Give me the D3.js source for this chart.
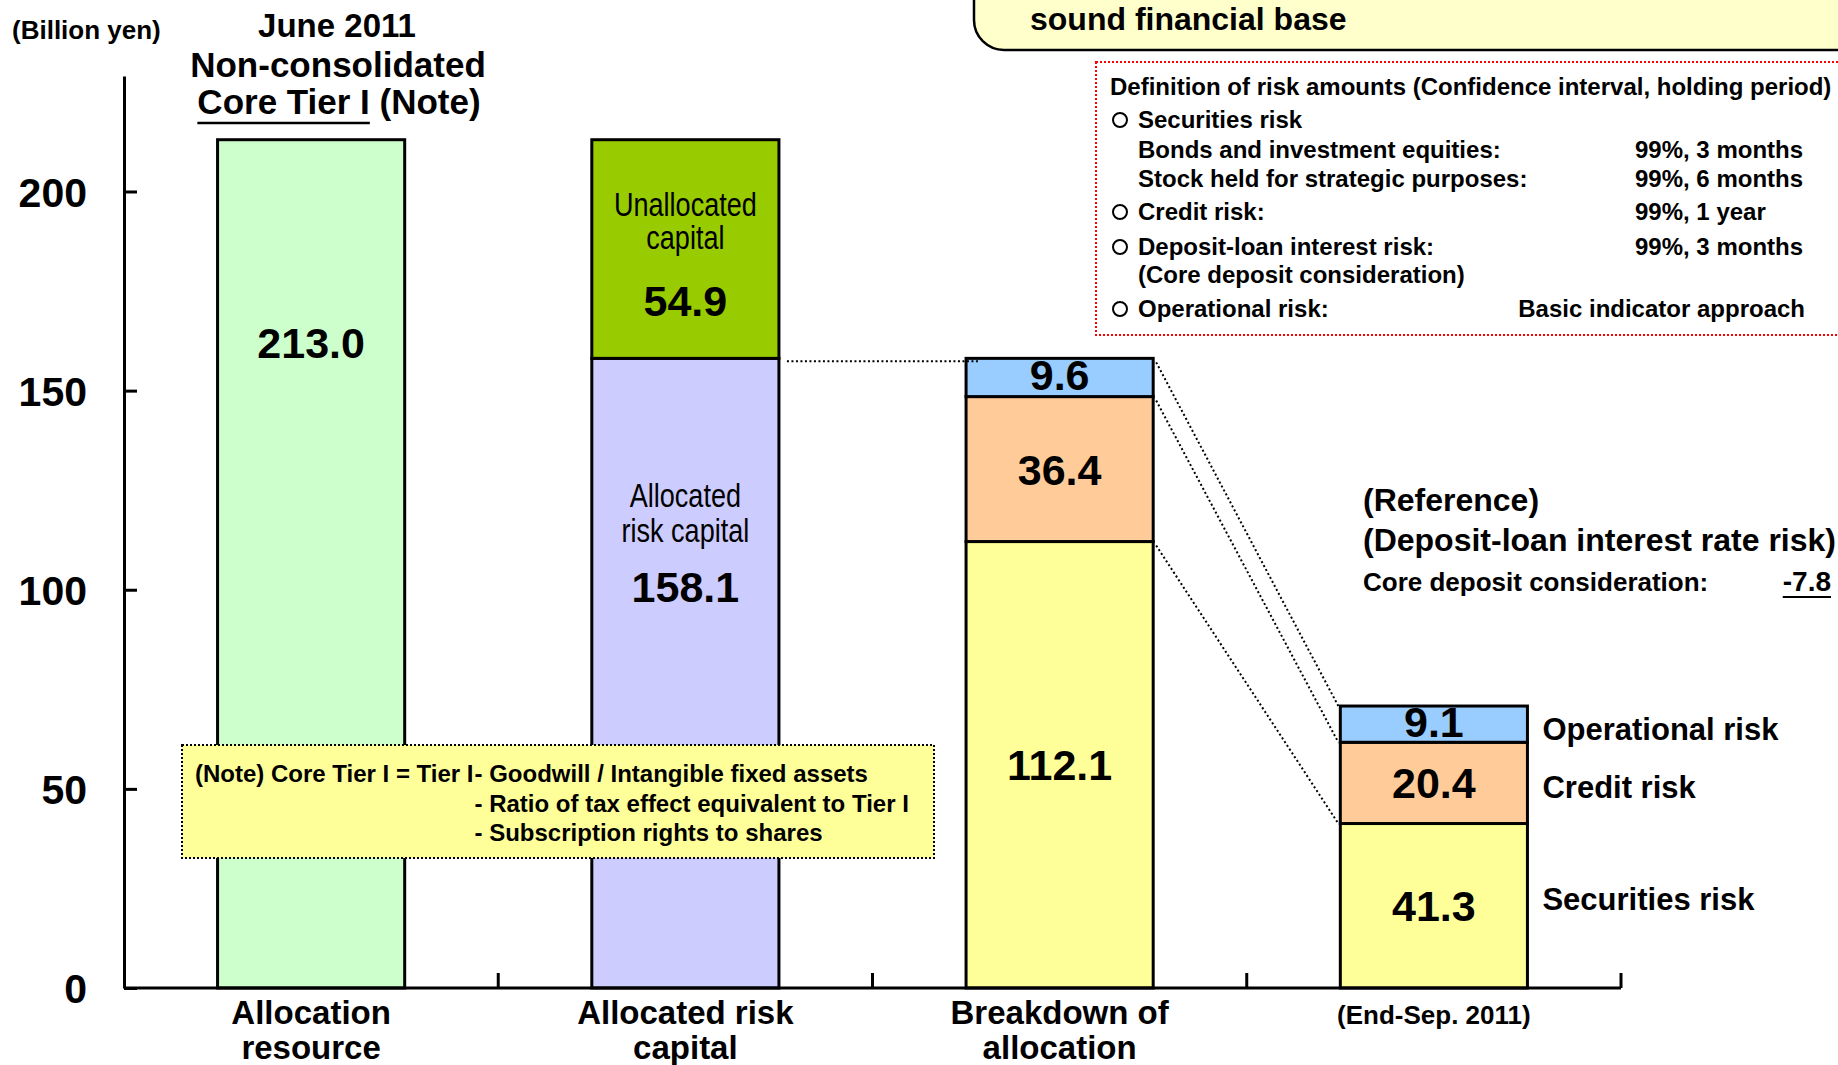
<!DOCTYPE html>
<html>
<head>
<meta charset="utf-8">
<script src="https://cdn.jsdelivr.net/npm/d3@7"></script>
<style>
  html, body { margin: 0; padding: 0; background: #fff; }
  svg { display: block; }
  text { font-family: "Liberation Sans", Arial, Helvetica, sans-serif; font-weight: bold; fill: #000; }
  .narrow { font-weight: normal; }
</style>
</head>
<body>
<svg id="chart" width="1838" height="1065"></svg>
<script>
// ---- data (billion yen) ----
const categories = ["Allocation resource", "Allocated risk capital", "Breakdown of allocation", "End-Sep. 2011"];
const categoryLabels = [["Allocation", "resource"], ["Allocated risk", "capital"], ["Breakdown of", "allocation"], ["(End-Sep. 2011)"]];
const coreTierI = 213.0;
const allocatedRiskCapital = 158.1;
const unallocatedCapital = 54.9;
const riskTypes = ["Securities risk", "Credit risk", "Operational risk"];
const riskJune = [112.1, 36.4, 9.6];
const riskSep = [41.3, 20.4, 9.1];
const yTicks = [0, 50, 100, 150, 200];
const coreDepositConsideration = -7.8;
const definitionRows = [
  { bullet: true,  label: "Securities risk", value: "" },
  { bullet: false, label: "Bonds and investment equities:", value: "99%, 3 months" },
  { bullet: false, label: "Stock held for strategic purposes:", value: "99%, 6 months" },
  { bullet: true,  label: "Credit risk:", value: "99%, 1 year" },
  { bullet: true,  label: "Deposit-loan interest risk:", value: "99%, 3 months" },
  { bullet: false, label: "(Core deposit consideration)", value: "" },
  { bullet: true,  label: "Operational risk:", value: "Basic indicator approach", endAligned: true }
];
const noteLines = ["- Goodwill / Intangible fixed assets", "- Ratio of tax effect equivalent to Tier I", "- Subscription rights to shares"];

// ---- styles ----
const riskColors = { "Securities risk": "#FFFF99", "Credit risk": "#FFCC99", "Operational risk": "#99CCFF" };
const resourceColor = "#CCFFCC", allocatedColor = "#CCCCFF", unallocatedColor = "#99CC00";

const svg = d3.select("#chart");

// ---- scales ----
const x = d3.scaleBand().domain(categories).range([124, 1621]).paddingInner(0.5).paddingOuter(0.25);
const y = d3.scaleLinear().domain([0, 229]).range([988, 76]);
const bw = x.bandwidth();

// ---- segments ----
const riskRows = [riskJune, riskSep].map((vals, i) => {
  const row = { cat: categories[2 + i] };
  riskTypes.forEach((k, j) => row[k] = vals[j]);
  return row;
});
const stacked = d3.stack().keys(riskTypes)(riskRows);

const segments = [
  { cat: categories[0], y0: 0, y1: coreTierI, fill: resourceColor },
  { cat: categories[1], y0: 0, y1: allocatedRiskCapital, fill: allocatedColor },
  { cat: categories[1], y0: allocatedRiskCapital, y1: allocatedRiskCapital + unallocatedCapital, fill: unallocatedColor }
];
stacked.forEach(layer => layer.forEach(d => {
  segments.push({ cat: d.data.cat, y0: d[0], y1: d[1], fill: riskColors[layer.key], key: layer.key, value: d.data[layer.key] });
}));

svg.append("g").selectAll("rect").data(segments).join("rect")
  .attr("x", d => x(d.cat))
  .attr("y", d => y(d.y1))
  .attr("width", bw)
  .attr("height", d => y(d.y0) - y(d.y1))
  .attr("fill", d => d.fill)
  .attr("stroke", "#000")
  .attr("stroke-width", 3);

// ---- axes ----
const yAxis = d3.axisLeft(y).tickValues(yTicks).tickSizeInner(-13).tickSizeOuter(0).tickPadding(37).tickFormat(d3.format("d"));
const gy = svg.append("g").attr("transform", "translate(124,0)").call(yAxis);
gy.attr("font-family", null).attr("font-size", null);
gy.select(".domain").attr("stroke", "#000").attr("stroke-width", 3);
gy.selectAll(".tick line").attr("stroke", "#000").attr("stroke-width", 3);
gy.selectAll(".tick text").attr("font-size", 41).attr("fill", "#000").attr("dy", "0.36em");

// x baseline with ticks at the band boundaries
const gx = svg.append("g");
gx.append("line").attr("x1", 124).attr("x2", x.range()[1]).attr("y1", y(0)).attr("y2", y(0))
  .attr("stroke", "#000").attr("stroke-width", 3);
const boundaries = categories.map((c, i) => x.range()[0] + x.step() * (i + 1));
gx.selectAll("line.b").data(boundaries).join("line").attr("class", "b")
  .attr("x1", d => d).attr("x2", d => d).attr("y1", y(0)).attr("y2", y(0) - 15)
  .attr("stroke", "#000").attr("stroke-width", 3);

// category labels
categoryLabels.forEach((lines, i) => {
  const cx = x(categories[i]) + bw / 2;
  const t = gx.append("text").attr("text-anchor", "middle").attr("font-size", lines.length > 1 ? 33 : 26);
  lines.forEach((s, j) => t.append("tspan").attr("x", cx).attr("y", 1024 + j * 35).text(s));
});

// ---- value labels ----
const labels = svg.append("g");
const cx = i => x(categories[i]) + bw / 2;

// condensed caption text inside a bar
function narrowText(str, xc, yb) {
  labels.append("text").attr("class", "narrow")
    .attr("transform", `translate(${xc},${yb}) scale(0.82,1)`)
    .attr("text-anchor", "middle").attr("font-size", 33).text(str);
}

labels.append("text").attr("x", cx(0)).attr("y", y(coreTierI) + 218)
  .attr("text-anchor", "middle").attr("font-size", 43).text(coreTierI.toFixed(1));

// allocated / unallocated capital
const unTop = y(allocatedRiskCapital + unallocatedCapital);
narrowText("Unallocated", cx(1), unTop + 76);
narrowText("capital", cx(1), unTop + 109);
labels.append("text").attr("x", cx(1)).attr("y", unTop + 176).attr("text-anchor", "middle").attr("font-size", 43).text(unallocatedCapital.toFixed(1));

const alTop = y(allocatedRiskCapital);
narrowText("Allocated", cx(1), alTop + 149);
narrowText("risk capital", cx(1), alTop + 184);
labels.append("text").attr("x", cx(1)).attr("y", alTop + 244).attr("text-anchor", "middle").attr("font-size", 43).text(allocatedRiskCapital.toFixed(1));

// risk breakdown values centred in each segment
labels.selectAll("text.risk").data(segments.filter(d => d.key)).join("text").attr("class", "risk")
  .attr("x", d => x(d.cat) + bw / 2)
  .attr("y", d => (y(d.y0) + y(d.y1)) / 2 - (d.value < 10 ? 3 : 0))
  .attr("dy", "0.36em")
  .attr("text-anchor", "middle").attr("font-size", 43)
  .text(d => d.value.toFixed(1));

// risk names beside the latest bar
const riskNameY = { "Securities risk": 910, "Credit risk": 798, "Operational risk": 740 };
labels.selectAll("text.rname").data(riskTypes).join("text").attr("class", "rname")
  .attr("x", x(categories[3]) + bw + 15)
  .attr("y", k => riskNameY[k])
  .attr("font-size", 31).text(k => k);

// ---- dotted connectors ----
const conn = svg.append("g").attr("fill", "none").attr("stroke", "#000").attr("stroke-width", 2).attr("stroke-dasharray", "2,2.5");
conn.append("line")
  .attr("x1", x(categories[1]) + bw + 8).attr("x2", x(categories[2]) + 12)
  .attr("y1", y(allocatedRiskCapital) + 3).attr("y2", y(allocatedRiskCapital) + 3);
riskTypes.forEach((k, i) => {
  const june = stacked[i][0][1], sep = stacked[i][1][1];
  conn.append("line")
    .attr("x1", x(categories[2]) + bw + 3).attr("y1", y(june) + 4)
    .attr("x2", x(categories[3]) - 2).attr("y2", y(sep));
});

// ---- header ----
const head = svg.append("g");
head.append("text").attr("x", 12).attr("y", 39).attr("font-size", 26).text("(Billion yen)");
head.append("text").attr("x", 337).attr("y", 37).attr("text-anchor", "middle").attr("font-size", 33).text("June 2011");
head.append("text").attr("x", 338).attr("y", 77).attr("text-anchor", "middle").attr("font-size", 35).text("Non-consolidated");
const ct = head.append("text").attr("x", 339).attr("y", 114).attr("text-anchor", "middle").attr("font-size", 35).text("Core Tier I (Note)");
{
  const bb = ct.node().getBBox();
  const w = ct.node().getSubStringLength(0, 11);
  head.append("line").attr("x1", bb.x).attr("x2", bb.x + w).attr("y1", 123).attr("y2", 123).attr("stroke", "#000").attr("stroke-width", 2.5);
}

// ---- note box ----
const note = svg.append("g");
note.append("rect").attr("x", 182).attr("y", 745).attr("width", 752).attr("height", 113)
  .attr("fill", "#FFFF99").attr("stroke", "#000").attr("stroke-width", 2).attr("stroke-dasharray", "2,2");
const pre = note.append("text").attr("x", 195).attr("y", 782).attr("font-size", 24).text("(Note) Core Tier I = Tier I");
const preW = pre.node().getComputedTextLength();
noteLines.forEach((s, i) => {
  note.append("text").attr("x", 195 + preW + 1).attr("y", [782, 812, 841][i]).attr("font-size", 24).text(s);
});

// ---- title box (top right) ----
const tb = svg.append("g");
tb.append("rect").attr("x", 974).attr("y", -80).attr("width", 960).attr("height", 130).attr("rx", 30)
  .attr("fill", "#FFFFCC").attr("stroke", "#000").attr("stroke-width", 2.5);
tb.append("text").attr("x", 1030).attr("y", 30).attr("font-size", 32).text("sound financial base");

// ---- definition box ----
const def = svg.append("g");
def.append("rect").attr("x", 1096).attr("y", 62).attr("width", 780).attr("height", 273)
  .attr("fill", "#fff").attr("stroke", "#FF0000").attr("stroke-width", 2).attr("stroke-dasharray", "2,2");
def.append("text").attr("x", 1110).attr("y", 95).attr("font-size", 24)
  .text("Definition of risk amounts (Confidence interval, holding period)");
const defY = [128, 158, 187, 220, 255, 283, 317];
definitionRows.forEach((r, i) => {
  if (r.bullet) {
    def.append("circle").attr("cx", 1120).attr("cy", defY[i] - 8).attr("r", 7)
      .attr("fill", "none").attr("stroke", "#000").attr("stroke-width", 2);
  }
  def.append("text").attr("x", 1138).attr("y", defY[i]).attr("font-size", 24).text(r.label);
  if (r.value) {
    def.append("text").attr("x", r.endAligned ? 1805 : 1635).attr("y", defY[i])
      .attr("text-anchor", r.endAligned ? "end" : "start").attr("font-size", 24).text(r.value);
  }
});

// ---- reference note ----
const ref = svg.append("g");
ref.append("text").attr("x", 1363).attr("y", 511).attr("font-size", 32).text("(Reference)");
ref.append("text").attr("x", 1363).attr("y", 551).attr("font-size", 32).text("(Deposit-loan interest rate risk)");
ref.append("text").attr("x", 1363).attr("y", 591).attr("font-size", 26).text("Core deposit consideration:");
const cd = ref.append("text").attr("x", 1831).attr("y", 591).attr("text-anchor", "end").attr("font-size", 28)
  .text(coreDepositConsideration.toFixed(1));
{
  const bb = cd.node().getBBox();
  ref.append("line").attr("x1", bb.x).attr("x2", bb.x + bb.width).attr("y1", 597).attr("y2", 597)
    .attr("stroke", "#000").attr("stroke-width", 2);
}
</script>
</body>
</html>
